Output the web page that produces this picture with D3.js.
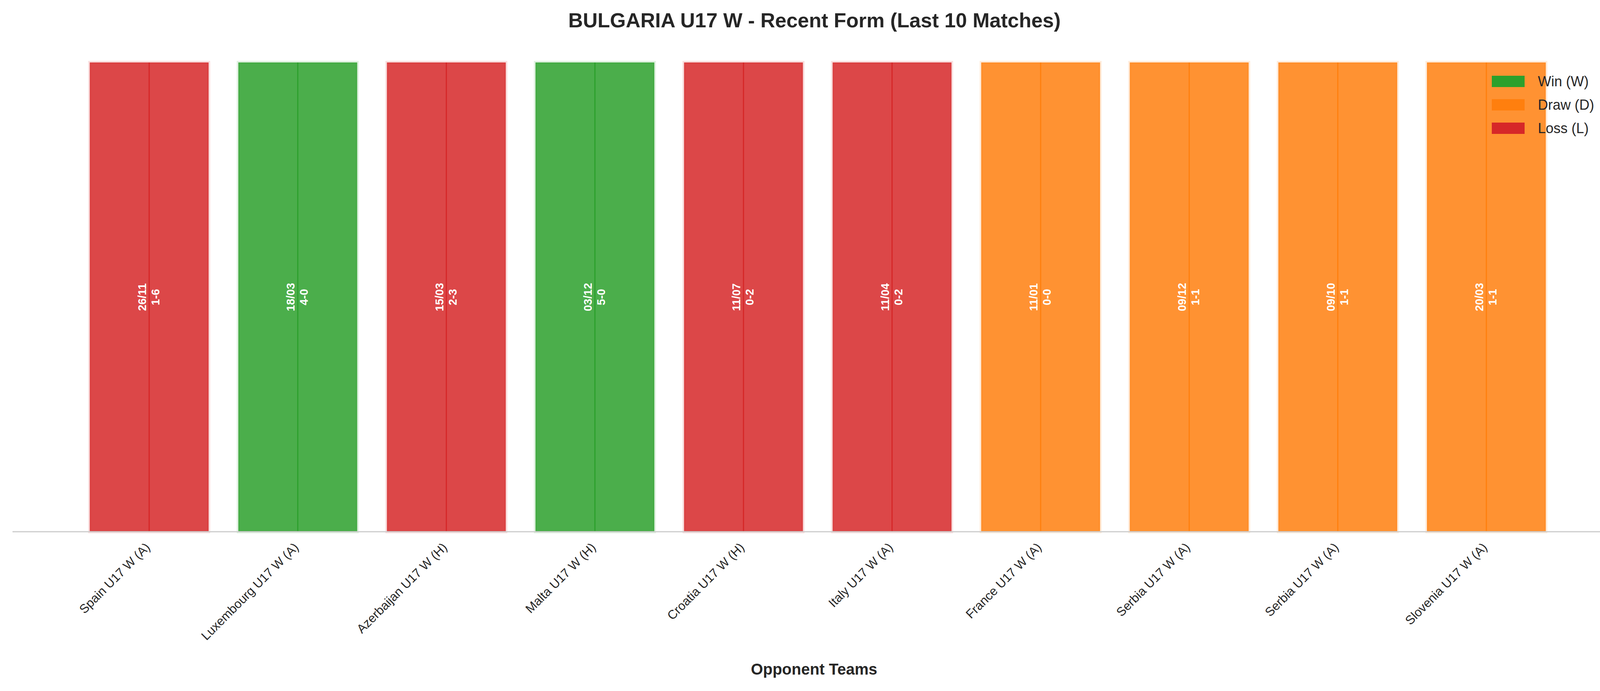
<!DOCTYPE html>
<html>
<head>
<meta charset="utf-8">
<script src="https://cdn.jsdelivr.net/npm/d3@7"></script>
<style>
  body { margin: 0; background: #fff; }
  svg { font-family: "Liberation Sans", Arial, sans-serif; }
</style>
</head>
<body>
<svg id="chart" width="4170" height="1770"></svg>
<script>
const opponents = ["Spain U17 W (A)", "Luxembourg U17 W (A)", "Azerbaijan U17 W (H)", "Malta U17 W (H)",
    "Croatia U17 W (H)", "Italy U17 W (A)", "France U17 W (A)", "Serbia U17 W (A)", "Serbia U17 W (A)", "Slovenia U17 W (A)"];
const results = ["L", "W", "L", "W", "L", "L", "D", "D", "D", "D"];
const dates = ["26/11", "18/03", "15/03", "03/12", "11/07", "11/04", "11/01", "09/12", "09/10", "20/03"];
const scores = ["1-6", "4-0", "2-3", "5-0", "0-2", "0-2", "0-0", "1-1", "1-1", "1-1"];
const legendItems = [["W", "Win (W)"], ["D", "Draw (D)"], ["L", "Loss (L)"]];

const colors = { W: "#2ca02c", D: "#ff7f0e", L: "#d62728" };

const svg = d3.select("#chart");
const plotLeft = 32, plotRight = 4136, plotTop = 160, plotBottom = 1362;

// matplotlib-like xlim with some padding around the bars
const x = d3.scaleLinear().domain([-0.92, 9.87]).range([plotLeft, plotRight]);
const y = d3.scaleLinear().domain([0, 1]).range([plotBottom, plotTop]);
const barW = x(0.8) - x(0);

const idx = d3.range(opponents.length);

// bars
const g = svg.append("g");
g.selectAll("rect.bar").data(idx).join("rect")
    .attr("class", "bar")
    .attr("x", i => x(i) - barW / 2)
    .attr("y", y(1))
    .attr("width", barW)
    .attr("height", y(0) - y(1))
    .attr("fill", i => colors[results[i]])
    .attr("fill-opacity", 0.85)
    .attr("stroke", i => colors[results[i]])
    .attr("stroke-opacity", 0.15)
    .attr("stroke-width", 8);

// thin center line
g.selectAll("line.mid").data(idx).join("line")
    .attr("x1", i => x(i)).attr("x2", i => x(i))
    .attr("y1", y(1)).attr("y2", y(0))
    .attr("stroke", i => colors[results[i]])
    .attr("stroke-width", 3);

// labels inside bars
const lab = g.selectAll("g.lab").data(idx).join("g")
    .attr("transform", i => `translate(${x(i)},${(y(0) + y(1)) / 2}) rotate(-90)`);
lab.append("text").attr("y", -8).attr("text-anchor", "middle")
    .attr("fill", "#fff").attr("font-weight", "bold").attr("font-size", 29)
    .text(i => dates[i]);
lab.append("text").attr("y", 26).attr("text-anchor", "middle")
    .attr("fill", "#fff").attr("font-weight", "bold").attr("font-size", 29)
    .text(i => scores[i]);

// x axis
svg.append("line").attr("x1", plotLeft).attr("x2", plotRight).attr("y1", plotBottom).attr("y2", plotBottom)
    .attr("stroke", "#ccc").attr("stroke-width", 3);

svg.append("g").selectAll("text").data(idx).join("text")
    .attr("transform", i => `translate(${x(i) + 4},${plotBottom + 42}) rotate(-45)`)
    .attr("text-anchor", "end")
    .attr("font-size", 32)
    .attr("fill", "#262626")
    .text(i => opponents[i]);

svg.append("text").attr("x", (plotLeft + plotRight) / 2).attr("y", 1728)
    .attr("text-anchor", "middle").attr("font-size", 40).attr("font-weight", "bold").attr("fill", "#262626")
    .text("Opponent Teams");

svg.append("text").attr("x", 2085).attr("y", 70)
    .attr("text-anchor", "middle").attr("font-size", 52).attr("font-weight", "bold").attr("fill", "#262626")
    .text("BULGARIA U17 W - Recent Form (Last 10 Matches)");

// legend
const lg = svg.append("g").selectAll("g").data(legendItems).join("g")
    .attr("transform", (d, i) => `translate(3819,${209 + i * 60})`);
lg.append("rect").attr("x", 0).attr("y", -15).attr("width", 84).attr("height", 29)
    .attr("fill", d => colors[d[0]]);
lg.append("text").attr("x", 118).attr("y", 12).attr("font-size", 36).attr("fill", "#262626")
    .text(d => d[1]);
</script>
</body>
</html>
